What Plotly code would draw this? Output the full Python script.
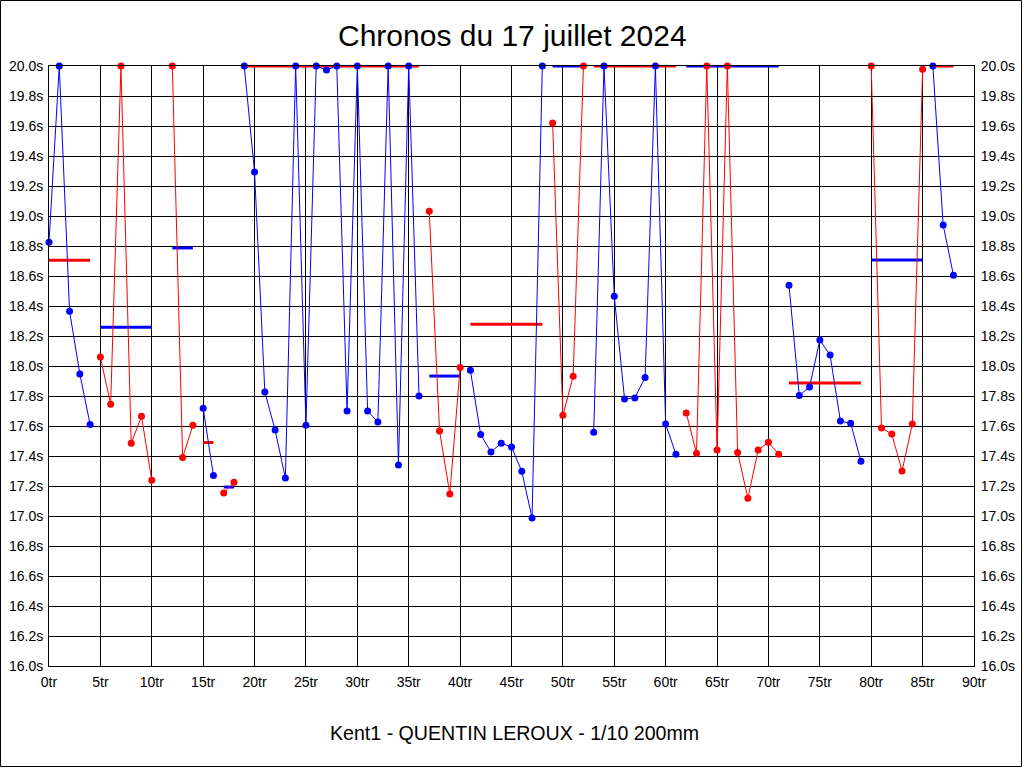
import plotly.graph_objects as go

# ---- data ----
lap_numbers = [0, 1, 2, 3, 4, 5, 6, 7, 8, 9, 10,
               12, 13, 14, 15, 16, 17, 18, 19, 20,
               21, 22, 23, 24, 25, 26, 27, 28, 29, 30,
               31, 32, 33, 34, 35, 36, 37, 38, 39, 40,
               41, 42, 43, 44, 45, 46, 47, 48, 49, 50,
               51, 52, 53, 54, 55, 56, 57, 58, 59, 60,
               61, 62, 63, 64, 65, 66, 67, 68, 69, 70,
               71, 72, 73, 74, 75, 76, 77, 78, 79, 80,
               81, 82, 83, 84, 85, 86, 87, 88]
lap_times = [18.825, 20.0, 18.365, 17.947, 17.61, 18.06, 17.745, 20.0, 17.485, 17.665, 17.238,
             20.0, 17.39, 17.605, 17.718, 17.27, 17.153, 17.225, 20.0, 19.293,
             17.827, 17.573, 17.253, 20.0, 17.605, 20.0, 19.973, 20.0, 17.70, 20.0,
             17.70, 17.627, 20.0, 17.34, 20.0, 17.80, 19.031, 17.567, 17.147, 17.99,
             17.971, 17.544, 17.427, 17.485, 17.46, 17.298, 16.987, 20.0, 19.62, 17.671,
             17.931, 20.0, 17.558, 20.0, 18.465, 17.78, 17.787, 17.924, 20.0, 17.613,
             17.411, 17.687, 17.418, 20.0, 17.44, 20.0, 17.424, 17.118, 17.44, 17.491,
             17.411, 18.538, 17.804, 17.86, 18.173, 18.073, 17.633, 17.618, 17.365, 20.0,
             17.587, 17.547, 17.30, 17.613, 19.978, 20.0, 18.94, 18.605]

stint_start = [0, 5, 12, 15, 17, 19, 37, 41, 49, 53, 62, 72, 80, 86]
stint_end = [4, 10, 14, 16, 18, 36, 40, 48, 52, 61, 71, 79, 85, 88]
stint_avg = [18.705, 18.258, 18.787, 17.49, 17.193, 20.0, 17.933, 18.278,
             20.0, 20.0, 20.0, 17.887, 18.707, 20.0]
stint_color = ["blue", "red", "red", "blue", "red", "blue", "red", "blue",
               "red", "blue", "red", "blue", "red", "blue"]

x_ticks = list(range(0, 91, 5))
x_tick_labels = [f"{v}tr" for v in x_ticks]
y_ticks = [round(16.0 + 0.2 * i, 1) for i in range(21)]
y_tick_labels = [f"{v:.1f}s" for v in y_ticks]

title_text = "Chronos du 17 juillet 2024"
footer_text = "Kent1 - QUENTIN LEROUX - 1/10 200mm"

COLORS = {"blue": "#0000FF", "red": "#FF0000"}
OPPOSITE = {"blue": "red", "red": "blue"}

fig = go.Figure()

# average lines (drawn first, under the laps)
for s, e, a, c in zip(stint_start, stint_end, stint_avg, stint_color):
    fig.add_trace(go.Scatter(
        x=[s, e], y=[a, a], mode="lines",
        line=dict(color=COLORS[OPPOSITE[c]], width=3),
        cliponaxis=False, hoverinfo="skip", showlegend=False))

# lap lines + markers per stint
for s, e, c in zip(stint_start, stint_end, stint_color):
    xs = [l for l in lap_numbers if s <= l <= e]
    ys = [t for l, t in zip(lap_numbers, lap_times) if s <= l <= e]
    fig.add_trace(go.Scatter(
        x=xs, y=ys, mode="lines+markers",
        line=dict(color=COLORS[c], width=1),
        marker=dict(color=COLORS[c], size=7, symbol="circle"),
        cliponaxis=False, showlegend=False))

# invisible trace for the right-hand axis
fig.add_trace(go.Scatter(x=[0], y=[16], yaxis="y2", mode="markers",
                         marker=dict(opacity=0), hoverinfo="skip", showlegend=False))

L, R, T, B = 49, 974, 66, 666
W, H = 1024, 768
pw, ph = R - L, B - T

def px(xp):
    return (xp - L) / pw

def py(yp):
    return (B - yp) / ph

tick_font = dict(family="Liberation Sans, Arial, sans-serif", size=14, color="black")

fig.update_layout(
    template="none",
    width=W, height=H, autosize=False,
    margin=dict(l=L, r=W - R, t=T, b=H - B, pad=0),
    paper_bgcolor="white", plot_bgcolor="white",
    showlegend=False,
    xaxis=dict(range=[0, 90], tickmode="array", tickvals=x_ticks, ticktext=x_tick_labels,
               automargin=False,
               showgrid=True, gridcolor="black", gridwidth=1, zeroline=False,
               showline=True, linecolor="black", linewidth=1, mirror=True,
               ticks="outside", ticklen=3, tickcolor="rgba(0,0,0,0)",
               tickfont=tick_font, fixedrange=True),
    yaxis=dict(range=[16, 20], tickmode="array", tickvals=y_ticks, ticktext=y_tick_labels,
               automargin=False,
               showgrid=True, gridcolor="black", gridwidth=1, zeroline=False,
               showline=True, linecolor="black", linewidth=1, mirror=True,
               ticks="outside", ticklen=2, tickcolor="rgba(0,0,0,0)",
               tickfont=tick_font, fixedrange=True),
    yaxis2=dict(range=[16, 20], tickmode="array", tickvals=y_ticks, ticktext=y_tick_labels,
                automargin=False,
                overlaying="y", side="right", showgrid=False, zeroline=False,
                showline=False, ticks="outside", ticklen=3, tickcolor="rgba(0,0,0,0)",
                tickfont=tick_font, fixedrange=True),
    annotations=[
        dict(text=title_text, xref="paper", yref="paper", x=px(512), y=py(36),
             xanchor="center", yanchor="middle", showarrow=False,
             font=dict(family="Liberation Sans, Arial, sans-serif", size=30, color="black")),
        dict(text=footer_text, xref="paper", yref="paper", x=px(514), y=py(733),
             xanchor="center", yanchor="middle", showarrow=False,
             font=dict(family="Liberation Sans, Arial, sans-serif", size=19.6, color="black")),
    ],
    shapes=[
        dict(type="rect", xref="paper", yref="paper",
             x0=px(0.5), x1=px(1021.5), y0=py(766.5), y1=py(0.5),
             line=dict(color="black", width=1), fillcolor="rgba(0,0,0,0)", layer="above"),
    ],
)

fig.write_html("out.html", config={"displayModeBar": False},
               post_script="document.body.style.margin='0';document.body.style.padding='0';")
